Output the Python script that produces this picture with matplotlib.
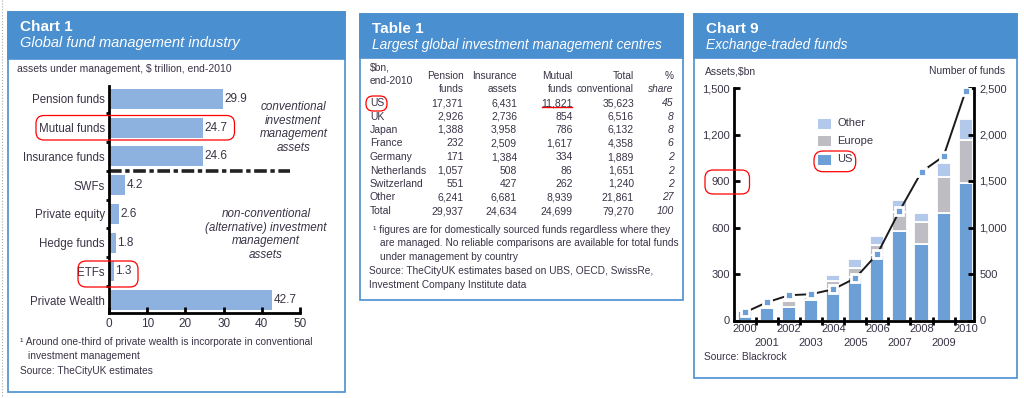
import matplotlib
matplotlib.use('Agg')
import numpy as np
import matplotlib.pyplot as plt
import matplotlib.transforms as mtransforms
from matplotlib.patches import Rectangle, FancyBboxPatch
from matplotlib.lines import Line2D

# ---- data: Chart 1 ----
fund_types = ['Pension funds', 'Mutual funds', 'Insurance funds', 'SWFs',
              'Private equity', 'Hedge funds', 'ETFs', 'Private Wealth']
fund_assets = [29.9, 24.7, 24.6, 4.2, 2.6, 1.8, 1.3, 42.7]

# ---- data: Table 1 ----
countries = ['US', 'UK', 'Japan', 'France', 'Germany', 'Netherlands',
             'Switzerland', 'Other', 'Total']
pension = [17371, 2926, 1388, 232, 171, 1057, 551, 6241, 29937]
insurance = [6431, 2736, 3958, 2509, 1384, 508, 427, 6681, 24634]
mutual = [11821, 854, 786, 1617, 334, 86, 262, 8939, 24699]
total_conv = [35623, 6516, 6132, 4358, 1889, 1651, 1240, 21861, 79270]
share = [45, 8, 8, 6, 2, 2, 2, 27, 100]

# ---- data: Chart 9 ----
years = list(range(2000, 2011))
etf_us = [60, 79, 89, 132, 205, 280, 420, 575, 493, 695, 885]
etf_europe = [6, 10, 37, 20, 48, 61, 67, 125, 140, 228, 282]
etf_other = [3, 4, 10, 8, 40, 55, 60, 80, 62, 90, 130]
n_funds = [88, 196, 272, 283, 336, 455, 717, 1177, 1598, 1766, 2467]

W, H = 1024, 398
plt.rcParams['font.family'] = ['Liberation Sans', 'DejaVu Sans']
TXT = '#3a3346'
BLUE = '#4a8fcf'

fig = plt.figure(figsize=(W / 100, H / 100), dpi=100)
# pixel coordinates, y measured from the top
PX = mtransforms.Affine2D().scale(1 / W, -1 / H).translate(0, 1) + fig.transFigure


def box(x0, y0, x1, y1):
    return [x0 / W, 1 - y1 / H, (x1 - x0) / W, (y1 - y0) / H]


def text(x, y, s, **kw):
    kw.setdefault('color', TXT)
    kw.setdefault('fontsize', 7.3)
    kw.setdefault('va', 'center')
    fig.text(x, y, s, transform=PX, **kw)


def panel(x0, y0, x1, y1, head, title, sub, subsize):
    fig.add_artist(Rectangle((x0, y0), x1 - x0, y1 - y0, transform=PX,
                             fc='white', ec=BLUE, lw=1.2, zorder=-2))
    fig.add_artist(Rectangle((x0, y0), x1 - x0, head - y0, transform=PX,
                             fc=BLUE, ec=BLUE, lw=1.2, zorder=-1))
    text(x0 + 12, y0 + 15, title, color='white', fontsize=11, fontweight='bold')
    text(x0 + 12, y0 + 31, sub, color='white', fontsize=subsize, style='italic')


def redbox(x0, y0, x1, y1, r=8):
    fig.add_artist(FancyBboxPatch((x0, y0), x1 - x0, y1 - y0,
                                  boxstyle='round,pad=0,rounding_size=%g' % r,
                                  transform=PX, fc='none', ec='red', lw=0.9, zorder=10))


fig.add_artist(Line2D([2, 2], [0, 398], transform=PX, color='#aaaaaa', lw=0.8, ls=':'))

# ================= Chart 1 =================
panel(8, 12.3, 344.5, 391.5, 59.3, 'Chart 1', 'Global fund management industry', 10.5)
text(17, 69.5, 'assets under management, $ trillion, end-2010', fontsize=7.5)

ax1 = fig.add_axes(box(109, 86, 300, 313))
ax1.patch.set_alpha(0)
ax1.barh(range(len(fund_types)), fund_assets, height=0.69, color='#8eb2df')
for i, v in enumerate(fund_assets):
    ax1.text(v + 0.4, i, f'{v}', va='center', ha='left', fontsize=8.5, color=TXT)
ax1.set_xlim(0, 50)
ax1.set_ylim(7.45, -0.45)
ax1.set_yticks(range(len(fund_types)))
ax1.set_yticklabels(fund_types)
ax1.set_yticks(np.arange(0.5, 7.5, 1), minor=True)
ax1.tick_params(axis='y', which='major', length=0, pad=3, labelsize=8.3, labelcolor=TXT)
ax1.tick_params(axis='y', which='minor', length=2.5, width=2, direction='out')
ax1.set_xticks(range(0, 51, 10))
ax1.tick_params(axis='x', direction='in', length=4, width=2, pad=3.5, labelsize=8.5, labelcolor=TXT)
for s in ['top', 'right']:
    ax1.spines[s].set_visible(False)
for s in ['left', 'bottom']:
    ax1.spines[s].set_linewidth(2)
ax1.axhline(2.5, xmin=0, xmax=0.948, color='#222222', lw=2.6, ls=(0, (3.5, 1, 1.2, 1)))

text(293.5, 127.5, 'conventional\ninvestment\nmanagement\nassets', ha='center',
     fontsize=8.4, style='italic', linespacing=1.18)
text(266, 234.5, 'non-conventional\n(alternative) investment\nmanagement\nassets', ha='center',
     fontsize=8.4, style='italic', linespacing=1.18)

text(20, 342, '¹ Around one-third of private wealth is incorporate in conventional')
text(28.5, 356, 'investment management')
text(19.5, 371, 'Source: TheCityUK estimates')

redbox(36, 115.5, 234.5, 140)
redbox(78, 261, 138, 287)

# ================= Table 1 =================
panel(360.3, 14, 682.7, 300, 58.3, 'Table 1', 'Largest global investment management centres', 9.9)
text(370, 68, '$bn,', fontsize=7.4)
text(370, 81, 'end-2010', fontsize=7.4)
cols = [(463.5, 'Pension', 'funds', pension),
        (517, 'Insurance', 'assets', insurance),
        (572.5, 'Mutual', 'funds', mutual),
        (634, 'Total', 'conventional', total_conv)]
for xr, h1, h2, vals in cols:
    text(xr, 76, h1, ha='right', fontsize=7.3)
    text(xr, 89, h2, ha='right', fontsize=7.3)
text(673.5, 76, '%', ha='right', fontsize=7.3)
text(673.5, 89, 'share', ha='right', fontsize=7.3, style='italic')
for k, c in enumerate(countries):
    y = 103 + 13.5 * k
    text(370, y, c, fontsize=7.5)
    for xr, _, _, vals in cols:
        text(xr, y, f'{vals[k]:,}', ha='right', fontsize=7.5)
    text(673.5, y, f'{share[k]}', ha='right', fontsize=7.5, style='italic')

text(373, 230, '¹ figures are for domestically sourced funds regardless where they')
text(380, 243.5, 'are managed. No reliable comparisons are available for total funds')
text(380, 257, 'under management by country')
text(369, 271, 'Source: TheCityUK estimates based on UBS, OECD, SwissRe,')
text(369, 284.5, 'Investment Company Institute data')

redbox(366, 96, 387, 111, r=7)
fig.add_artist(Line2D([542, 572], [106.7, 106.7], transform=PX, color='red', lw=1))

# ================= Chart 9 =================
panel(694.3, 14, 1016.7, 378.3, 58.3, 'Chart 9', 'Exchange-traded funds', 9.8)
text(705, 71, 'Assets,$bn', fontsize=7.4)
text(1005, 71, 'Number of funds', ha='right', fontsize=7.4)
text(704, 356.5, 'Source: Blackrock', fontsize=7.4)

C_US, C_EU, C_OT = '#6c9fd5', '#bdbdc3', '#b3c9ec'
ax9 = fig.add_axes(box(734, 88, 974, 320.5))
ax9.patch.set_alpha(0)
x = np.arange(len(years))
bot_eu = np.array(etf_us)
bot_ot = bot_eu + np.array(etf_europe)
ax9.bar(x, etf_us, width=0.64, color=C_US, edgecolor='white', lw=1.3)
ax9.bar(x, etf_europe, bottom=bot_eu, width=0.64, color=C_EU, edgecolor='white', lw=1.3)
ax9.bar(x, etf_other, bottom=bot_ot, width=0.64, color=C_OT, edgecolor='white', lw=1.3)
ax9.set_xlim(-0.5, 10.38)
ax9.set_ylim(0, 1500)
ax9.set_yticks(range(0, 1501, 300))
ax9.set_yticklabels([f'{v:,}' for v in range(0, 1501, 300)])
ax9.tick_params(axis='y', direction='in', length=4.5, width=2, pad=3, labelsize=8, labelcolor=TXT)
ax9.set_xticks(x[:-1] + 0.5)
ax9.tick_params(axis='x', direction='inout', length=6, width=2, labelbottom=False)
for s in ['top', 'right']:
    ax9.spines[s].set_visible(False)
for s in ['left', 'bottom']:
    ax9.spines[s].set_linewidth(2)
yr_tr = mtransforms.blended_transform_factory(ax9.transData, PX)
for i, yr in enumerate(years):
    ax9.text(i, 328.5 if i % 2 == 0 else 342.5, str(yr), transform=yr_tr,
             ha='center', va='center', fontsize=8, color=TXT)

ax9r = ax9.twinx()
ax9r.set_ylim(0, 2500)
ax9r.plot(x, n_funds, color='#1a1a1a', lw=1.4, marker='s', ms=5.8,
          mfc=C_US, mec='white', mew=2)
ax9r.set_yticks(range(0, 2501, 500))
ax9r.set_yticklabels([f'{v:,}' for v in range(0, 2501, 500)])
ax9r.tick_params(axis='y', direction='in', length=4.5, width=2, pad=4, labelsize=8, labelcolor=TXT)
for s in ['top', 'left', 'bottom']:
    ax9r.spines[s].set_visible(False)
ax9r.spines['right'].set_linewidth(2)

# legend
for yc, lab, col in [(123.5, 'Other', C_OT), (141.3, 'Europe', C_EU), (159.5, 'US', C_US)]:
    fig.add_artist(Rectangle((818, yc - 5), 13, 10, transform=PX, fc=col, ec='none', zorder=6))
    text(837, yc, lab, fontsize=8)

redbox(814, 151, 855.7, 171.7, r=9)
redbox(705, 170, 749.5, 194, r=8)

fig.savefig('out.png', dpi=100)
